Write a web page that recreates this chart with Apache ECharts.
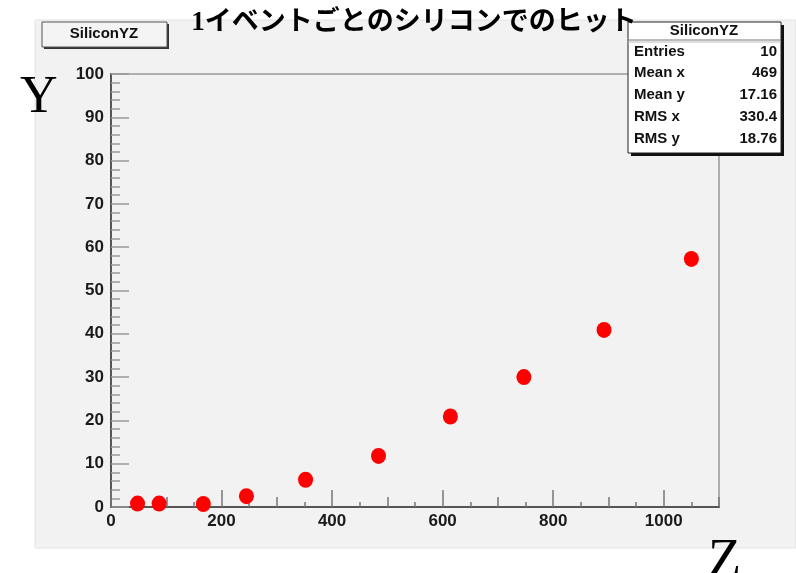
<!DOCTYPE html>
<html><head><meta charset="utf-8">
<script src="https://cdn.jsdelivr.net/npm/echarts@6/dist/echarts.min.js"></script>
<style>html,body{margin:0;padding:0;background:#fff}#c{width:796px;height:573px}</style>
</head><body><div id="c"></div>
<script>
const zValues = [48, 87, 167, 245, 352, 484, 614, 747, 892, 1050];
const yValues = [0.8, 0.8, 0.7, 2.5, 6.3, 11.8, 20.9, 30.0, 40.9, 57.3];
const statNames = ['Entries', 'Mean x', 'Mean y', 'RMS x', 'RMS y'];
const statValues = ['10', '469', '17.16', '330.4', '18.76'];
const histName = 'SiliconYZ';
const titleText = '1イベントごとのシリコンでのヒット';

const points = zValues.map((z, i) => [z, yValues[i]]);
const lblFont = {color: '#1a1a1a', fontWeight: 'bold', fontFamily: 'Liberation Sans, Arial, sans-serif', fontSize: 17};
const boxFont = 'bold 15px "Liberation Sans", Arial';

const statEls = [];
statEls.push({type: 'rect', shape: {x: 631, y: 25, width: 153, height: 131}, style: {fill: '#111'}});
statEls.push({type: 'rect', shape: {x: 628, y: 22, width: 153, height: 131}, style: {fill: '#fff', stroke: '#222', lineWidth: 1}});
statEls.push({type: 'line', shape: {x1: 628, y1: 40, x2: 781, y2: 40}, style: {stroke: '#777', lineWidth: 1}});
statEls.push({type: 'line', shape: {x1: 628, y1: 42, x2: 781, y2: 42}, style: {stroke: '#bbb', lineWidth: 1}});
statEls.push({type: 'text', x: 704, y: 31, style: {text: histName, fill: '#111', font: boxFont, textAlign: 'center', textVerticalAlign: 'middle'}});
statNames.forEach((n, i) => {
  const y = 51.5 + i * 21.8;
  statEls.push({type: 'text', x: 634, y: y, style: {text: n, fill: '#111', font: boxFont, textAlign: 'left', textVerticalAlign: 'middle'}});
  statEls.push({type: 'text', x: 777, y: y, style: {text: statValues[i], fill: '#111', font: boxFont, textAlign: 'right', textVerticalAlign: 'middle'}});
});

const chart = echarts.init(document.getElementById('c'), null, {renderer: 'canvas'});
chart.setOption({
  backgroundColor: '#ffffff',
  animation: false,
  grid: {left: 111, top: 74, right: 77, bottom: 66, show: true, backgroundColor: '#f2f2f2', borderColor: '#999', borderWidth: 1.5},
  xAxis: [
    {type: 'value', min: 0, max: 1100, interval: 100, position: 'bottom',
     axisLine: {show: true, lineStyle: {color: '#555', width: 2}},
     axisTick: {show: true, inside: true, length: 10, lineStyle: {color: '#777', width: 1.5}},
     minorTick: {show: true, splitNumber: 2, length: 5, lineStyle: {color: '#777', width: 1.5}},
     axisLabel: {show: false}, splitLine: {show: false}},
    {type: 'value', min: 0, max: 1100, interval: 200, position: 'bottom',
     axisLine: {show: false},
     axisTick: {show: true, inside: true, length: 17, lineStyle: {color: '#777', width: 1.5}},
     axisLabel: Object.assign({margin: 6, showMaxLabel: false, formatter: v => (v % 200 === 0 ? String(v) : '')}, lblFont),
     splitLine: {show: false}}
  ],
  yAxis: {type: 'value', min: 0, max: 100, interval: 10,
    axisLine: {show: true, lineStyle: {color: '#555', width: 2}},
    axisTick: {show: true, inside: true, length: 18, lineStyle: {color: '#999', width: 1.5}},
    minorTick: {show: true, splitNumber: 5, length: 9, lineStyle: {color: '#999', width: 1.5}},
    axisLabel: Object.assign({margin: 7}, lblFont),
    splitLine: {show: false}},
  series: [{type: 'scatter', xAxisIndex: 0, data: points, symbol: 'circle', symbolSize: [15, 16],
    itemStyle: {color: '#ff0000', opacity: 1}}],
  graphic: [
    {type: 'rect', z: -100, shape: {x: 35, y: 20, width: 761, height: 528}, style: {fill: '#f2f2f2', stroke: '#e2e2e2', lineWidth: 1}},
    {type: 'rect', z: 50, shape: {x: 44, y: 24, width: 125, height: 25}, style: {fill: '#333'}},
    {type: 'rect', z: 50, shape: {x: 42, y: 22, width: 125, height: 25}, style: {fill: '#f4f4f4', stroke: '#555', lineWidth: 1}},
    {type: 'text', z: 51, x: 104, y: 34, style: {text: histName, fill: '#111', font: boxFont, textAlign: 'center', textVerticalAlign: 'middle'}},
    {type: 'text', z: 51, x: 414, y: 23, style: {text: titleText, fill: '#000', font: 'bold 27px "Liberation Serif", "Noto Sans CJK JP"', textAlign: 'center', textVerticalAlign: 'middle'}},
    {type: 'text', z: 51, x: 20, y: 98, style: {text: 'Y', fill: '#000', font: '52px "Liberation Serif", "DejaVu Serif", serif', textAlign: 'left', textVerticalAlign: 'middle'}},
    {type: 'text', z: 51, x: 708, y: 562, style: {text: 'Z', fill: '#000', font: '54px "Liberation Serif", "DejaVu Serif", serif', textAlign: 'left', textVerticalAlign: 'middle'}},
    {type: 'group', z: 60, children: statEls}
  ]
});
</script></body></html>
